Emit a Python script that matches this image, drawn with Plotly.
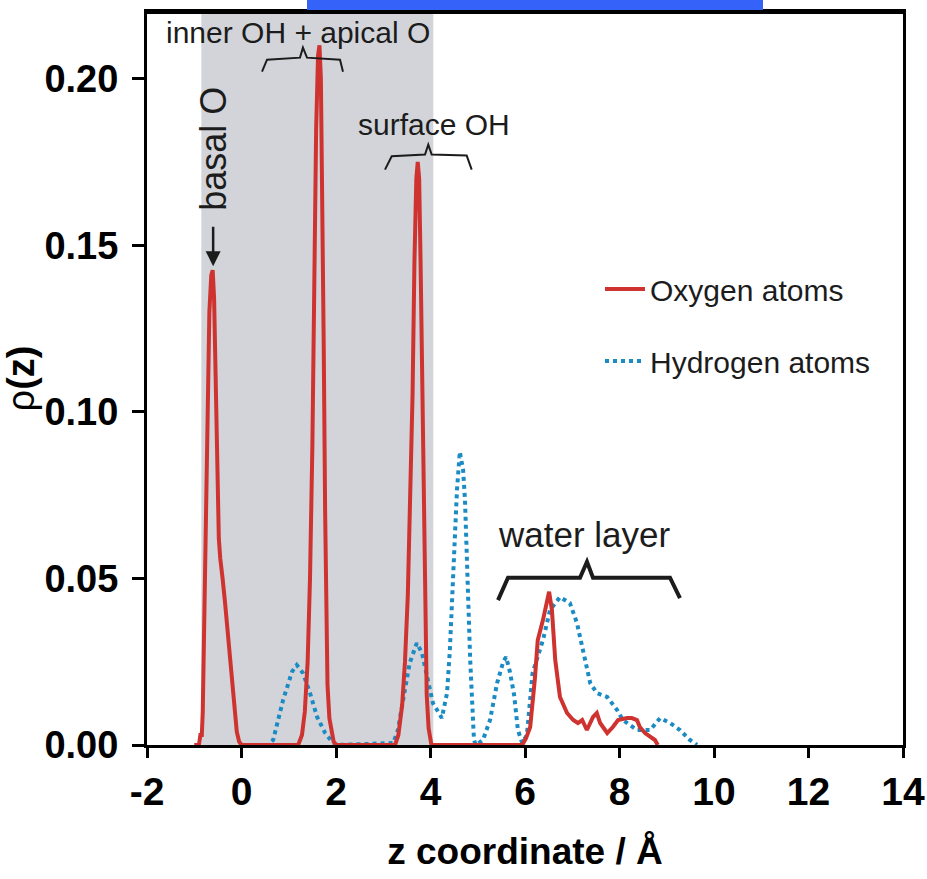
import plotly.graph_objects as go

# Density profiles rho(z) along the surface normal
O_z = [-1.0, -0.9, -0.87, -0.84, -0.82, -0.78, -0.75, -0.72, -0.68, -0.64, -0.61, -0.58,
       -0.55, -0.52, -0.48, -0.45, -0.43, -0.40, -0.35, -0.30, -0.25, -0.20, -0.15, -0.10,
       -0.05, 0.0,
       1.0, 1.2, 1.28, 1.34, 1.40, 1.45, 1.50, 1.54, 1.58, 1.62, 1.65, 1.68, 1.71, 1.74,
       1.77, 1.79, 1.82, 1.86, 1.90, 1.95, 2.0, 2.1,
       3.0, 3.25, 3.32, 3.40, 3.46, 3.52, 3.57, 3.62, 3.66, 3.70, 3.73, 3.76, 3.79, 3.82,
       3.85, 3.88, 3.92, 3.96, 4.02, 4.1,
       5.83, 5.94, 6.02, 6.11, 6.21, 6.27, 6.38, 6.44, 6.51, 6.57, 6.64, 6.74, 6.89, 7.02,
       7.12, 7.21, 7.31, 7.44, 7.52, 7.59, 7.74, 7.86, 7.97, 8.16, 8.26, 8.37, 8.43, 8.54,
       8.65, 8.75, 8.81]
O_rho = [0.0, 0.0, 0.003, 0.003, 0.01, 0.045, 0.075, 0.105, 0.13, 0.141, 0.1425, 0.134,
         0.11, 0.085, 0.062, 0.056, 0.054, 0.050, 0.043, 0.035, 0.025, 0.017, 0.009, 0.004,
         0.001, 0.0,
         0.0, 0.0, 0.003, 0.01, 0.025, 0.05, 0.09, 0.14, 0.185, 0.207, 0.21, 0.2, 0.165, 0.12,
         0.07, 0.04, 0.018, 0.008, 0.004, 0.001, 0.0, 0.0,
         0.0, 0.0, 0.003, 0.012, 0.025, 0.045, 0.075, 0.105, 0.145, 0.17, 0.175, 0.17, 0.145,
         0.115, 0.08, 0.045, 0.015, 0.005, 0.0, 0.0,
         0.0, 0.0, 0.002, 0.0054, 0.02, 0.0315, 0.0375, 0.042, 0.046, 0.0405, 0.0255, 0.0144,
         0.0096, 0.0075, 0.0066, 0.0075, 0.0045, 0.0084, 0.0096, 0.0066, 0.0036, 0.0054,
         0.0075, 0.0081, 0.0081, 0.0075, 0.0054, 0.0036, 0.0024, 0.0015, 0.0]

H_z = [0.50, 0.56, 0.67, 0.88, 1.07, 1.17, 1.30, 1.45, 1.60, 1.77, 1.92, 2.02,
       3.21, 3.31, 3.42, 3.56, 3.71, 3.82, 3.93, 4.05, 4.24, 4.35, 4.41, 4.50, 4.56, 4.62,
       4.69, 4.73, 4.79, 4.84, 4.88, 4.92, 4.96,
       5.11, 5.26, 5.41, 5.54, 5.60, 5.68, 5.77, 5.85, 5.94, 6.04, 6.16, 6.38, 6.53, 6.74,
       6.95, 7.10, 7.23, 7.38, 7.52, 7.74, 7.95, 8.07, 8.37, 8.65, 8.86, 9.07, 9.28, 9.49,
       9.64]
H_rho = [0.0, 0.0, 0.0015, 0.0135, 0.022, 0.024, 0.0216, 0.0156, 0.0084, 0.0036, 0.0009, 0.0,
         0.0006, 0.0045, 0.0135, 0.0246, 0.0306, 0.0276, 0.0204, 0.0126, 0.0081, 0.0156,
         0.0285, 0.0555, 0.0765, 0.088, 0.0826, 0.0735, 0.0435, 0.0255, 0.0135, 0.0015, 0.0,
         0.0015, 0.0075, 0.0186, 0.025, 0.0264, 0.022, 0.015, 0.0045, 0.0006, 0.003, 0.0216,
         0.0315, 0.0405, 0.0444, 0.0426, 0.0366, 0.0285, 0.0186, 0.0156, 0.0144, 0.0105,
         0.0075, 0.0045, 0.0045, 0.0081, 0.0066, 0.0045, 0.0015, 0.0]

series_names = ["Oxygen atoms", "Hydrogen atoms"]
x_ticks = [-2, 0, 2, 4, 6, 8, 10, 12, 14]
y_ticks = [0.00, 0.05, 0.10, 0.15, 0.20]

# Mineral slab (shaded) and bracket outlines for the labelled regions
slab_span = [-0.85, 4.06]
brace_inner = [(0.434, 0.2021), (0.54, 0.2057), (1.238, 0.2063), (1.30, 0.2093),
               (1.386, 0.2063), (2.085, 0.2057), (2.148, 0.2021)]
brace_surface = [(3.037, 0.1727), (3.179, 0.1767), (3.884, 0.1772), (3.953, 0.1802),
                 (4.025, 0.1772), (4.766, 0.1769), (4.872, 0.1727)]
brace_water = [(5.429, 0.0435), (5.64, 0.0502), (7.164, 0.0502), (7.312, 0.0550),
               (7.439, 0.0502), (9.069, 0.0502), (9.28, 0.0441)]

RED = "#cf3330"
BLUE = "#1b8bc4"
INK = "#1c1c1c"
BOLD = "Liberation Sans Narrow, Arial Narrow, Liberation Sans, Arial"
REG = "Liberation Sans, Arial, sans-serif"

PLOT_L, PLOT_R, PLOT_T, PLOT_B = 147, 24, 12, 134
PLOT_W = 927 - PLOT_L - PLOT_R
PLOT_H = 879 - PLOT_T - PLOT_B

fig = go.Figure()
fig.add_trace(go.Scatter(x=H_z, y=H_rho, mode="lines", name=series_names[1],
                         line=dict(color=BLUE, width=4, dash="dot"),
                         legendgroup="h", legendrank=2))
fig.add_trace(go.Scatter(x=O_z, y=O_rho, mode="lines", name=series_names[0],
                         line=dict(color=RED, width=4),
                         legendgroup="o", legendrank=1))


def brace_path(pts):
    return "M " + " L ".join(f"{x},{y}" for x, y in pts)


shapes = [
    dict(type="rect", xref="x", yref="y", x0=slab_span[0], x1=slab_span[1], y0=0, y1=0.22,
         fillcolor="#d2d4d9", line=dict(width=0), layer="below"),
    dict(type="path", xref="x", yref="y", path=brace_path(brace_inner),
         line=dict(color=INK, width=2)),
    dict(type="path", xref="x", yref="y", path=brace_path(brace_surface),
         line=dict(color=INK, width=2)),
    dict(type="path", xref="x", yref="y", path=brace_path(brace_water),
         line=dict(color=INK, width=4)),
    # heavier top edge of the frame
    dict(type="line", xref="paper", yref="paper", x0=0, x1=1, y0=1, y1=1,
         line=dict(color="black", width=4)),
    # banner strip along the top edge
    dict(type="rect", xref="paper", yref="paper",
         x0=(307 - PLOT_L) / PLOT_W, x1=(763 - PLOT_L) / PLOT_W,
         y0=1.0 + 2 / PLOT_H, y1=1.0 + 14 / PLOT_H, fillcolor="#3563fa", line=dict(width=0)),
]

annotations = [
    dict(x=1.206, y=0.2138, xref="x", yref="y", text="inner OH + apical O", showarrow=False,
         font=dict(family=REG, size=30, color=INK)),
    dict(x=4.07, y=0.1862, xref="x", yref="y", text="surface OH", showarrow=False,
         font=dict(family=REG, size=30, color=INK)),
    dict(x=7.25, y=0.0631, xref="x", yref="y", text="water layer", showarrow=False,
         font=dict(family=REG, size=35, color=INK)),
    dict(x=-0.60, y=0.1790, xref="x", yref="y", text="basal O", showarrow=False,
         textangle=-90, font=dict(family=REG, size=36, color=INK)),
    dict(x=-0.60, y=0.1437, xref="x", yref="y", ax=-0.60, ay=0.1560, axref="x", ayref="y",
         text="", showarrow=True, arrowhead=2, arrowsize=1.2, arrowwidth=2.5,
         arrowcolor=INK),
]

fig.update_layout(
    width=927, height=879,
    margin=dict(l=PLOT_L, r=PLOT_R, t=PLOT_T, b=PLOT_B, autoexpand=False),
    paper_bgcolor="white", plot_bgcolor="white",
    shapes=shapes, annotations=annotations,
    showlegend=True,
    legend=dict(x=(600 - PLOT_L) / PLOT_W, y=1 - (263 - PLOT_T) / PLOT_H,
                xanchor="left", yanchor="top",
                bgcolor="rgba(0,0,0,0)", font=dict(family=REG, size=30, color=INK),
                tracegroupgap=30, itemwidth=40),
    xaxis=dict(range=[-2, 14], tickvals=x_ticks, ticktext=[str(v) for v in x_ticks],
               automargin=False,
               showgrid=False, zeroline=False, showline=True, linecolor="black",
               linewidth=3, mirror=True, ticks="outside", ticklen=10, tickwidth=2.5,
               tickcolor="black", layer="below traces",
               tickfont=dict(family=BOLD, size=39, color="black", weight="bold"),
               title=dict(text="<b>z coordinate / Å</b>", standoff=27,
                          font=dict(family=BOLD, size=37, color="black"))),
    yaxis=dict(range=[0, 0.22], tickvals=y_ticks, ticktext=[f"{v:.2f}" for v in y_ticks],
               automargin=False,
               showgrid=False, zeroline=False, showline=True, linecolor="black",
               linewidth=3, mirror=True, ticks="outside", ticklen=12, tickwidth=2.5,
               tickcolor="black", layer="below traces", ticklabelstandoff=6,
               tickfont=dict(family=BOLD, size=38, color="black", weight="bold"),
               title=dict(text="ρ<b>(z)</b>", standoff=16,
                          font=dict(family=REG, size=38, color="black"))),
)

fig.write_html("out.html")
